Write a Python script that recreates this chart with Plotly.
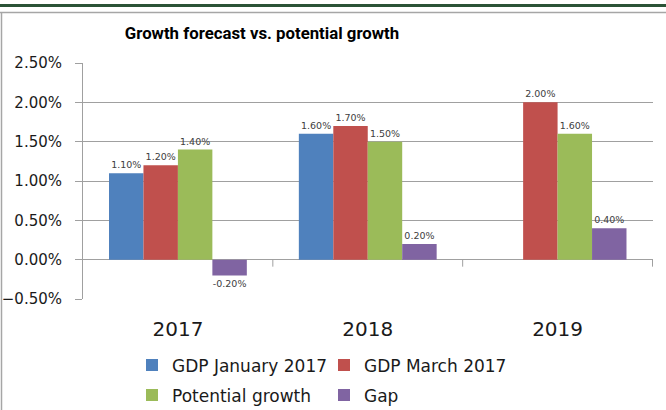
import plotly.graph_objects as go

categories = ["2017", "2018", "2019"]
gdp_january_2017 = [0.011, 0.016, None]
gdp_march_2017 = [0.012, 0.017, 0.020]
potential_growth = [0.014, 0.015, 0.016]
gap = [-0.002, 0.002, 0.004]

series = [
    ("GDP January 2017", gdp_january_2017, "#4F81BD", "legend"),
    ("GDP March 2017", gdp_march_2017, "#C0504D", "legend"),
    ("Potential growth", potential_growth, "#9BBB59", "legend2"),
    ("Gap", gap, "#8064A2", "legend2"),
]

W, H = 666, 410
ML, MR, MT, MB = 83, 13, 63, 111


def px_x(px):
    return (px - ML) / (W - ML - MR)


def px_y(py):
    return (H - MB - py) / (H - MT - MB)


fig = go.Figure()
for name, vals, color, leg in series:
    fig.add_trace(go.Bar(
        x=categories, y=vals, name=name, marker_color=color,
        marker_line_width=0, legend=leg,
        texttemplate="%{y:.2%}", textposition="outside",
        textfont=dict(family="DejaVu Sans", size=9.5, color="#404040"),
        cliponaxis=False,
    ))

grid = "#a0a0a0"
shapes = []
# category boundary ticks on the zero line
for b in [0.5, 1.5, 2.5]:
    shapes.append(dict(type="line", xref="x", yref="y", x0=b, x1=b,
                       ysizemode="pixel", yanchor=0, y0=0, y1=-7,
                       line=dict(color=grid, width=1)))
# frame decorations
shapes.append(dict(type="line", xref="paper", yref="paper",
                   x0=px_x(0), x1=px_x(W), y0=px_y(5.5), y1=px_y(5.5),
                   line=dict(color="#2b5337", width=3)))
shapes.append(dict(type="line", xref="paper", yref="paper",
                   x0=px_x(0), x1=px_x(W), y0=px_y(12.5), y1=px_y(12.5),
                   line=dict(color="#a6a6a6", width=1.5)))
shapes.append(dict(type="line", xref="paper", yref="paper",
                   x0=px_x(1.5), x1=px_x(1.5), y0=px_y(12.5), y1=px_y(H),
                   line=dict(color="#a6a6a6", width=1.5)))

legend_common = dict(
    orientation="h", xref="container", yref="container",
    xanchor="left", yanchor="middle",
    font=dict(family="DejaVu Sans", size=17, color="#1a1a1a"),
    entrywidth=147, entrywidthmode="pixels", itemwidth=30,
    bgcolor="rgba(0,0,0,0)", tracegroupgap=0,
)

fig.update_layout(
    width=W, height=H,
    margin=dict(l=ML, r=MR, t=MT, b=MB, autoexpand=False),
    paper_bgcolor="white", plot_bgcolor="white",
    barmode="group", bargap=0.274, bargroupgap=0,
    title=dict(text="<b>Growth forecast vs. potential growth</b>",
               x=262 / W, xref="container", xanchor="center",
               y=1 - 33 / H, yref="container", yanchor="middle",
               font=dict(family="Roboto", size=16.8, color="#000000")),
    xaxis=dict(type="category", showgrid=False, showline=False, ticks="",
               automargin=False,
               tickfont=dict(family="DejaVu Sans", size=20, color="#1a1a1a"),
               ticklabelstandoff=16),
    yaxis=dict(range=[-0.005, 0.025], dtick=0.005, tickformat=".2%",
               automargin=False,
               showgrid=True, gridcolor=grid, gridwidth=1,
               showline=True, linecolor=grid, linewidth=1,
               ticks="outside", ticklen=7, tickcolor=grid,
               zeroline=True, zerolinecolor=grid, zerolinewidth=1,
               tickfont=dict(family="DejaVu Sans", size=15, color="#1a1a1a"),
               ticklabelstandoff=10),
    legend=dict(x=132 / W, y=1 - 365.5 / H, **legend_common),
    legend2=dict(x=132 / W, y=1 - 395.5 / H, **legend_common),
    shapes=shapes,
    showlegend=True,
)

fig.write_html("out.html")
